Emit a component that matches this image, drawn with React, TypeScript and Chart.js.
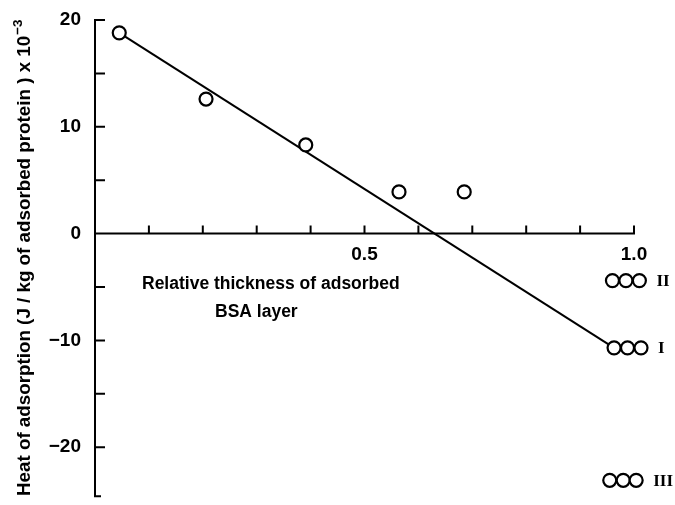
import React, { useEffect, useRef } from 'react';
import { Chart, registerables } from 'chart.js';

Chart.register(...registerables);

// ---- data ----
const mainX = [0.045, 0.206, 0.391, 0.564, 0.685];
const mainY = [18.8, 12.6, 8.3, 3.9, 3.9];

const fitX = [0.045, 0.963];
const fitY = [18.8, -10.7];

const groupNames = ['II', 'I', 'III'];
const groupY = [-4.4, -10.7, -23.1];
const groupXII = [0.96, 0.985, 1.01];
const groupXI = [0.963, 0.988, 1.013];
const groupXIII = [0.955, 0.98, 1.004];

const yMin = -24.6;
const yMax = 20;
const yLabelTicks = [-20, -10, 0, 10, 20];
const yMarkTicks = [20, 15, 10, 5, -5, -10, -15, -20, -24.6];
const xMarkTicks = [0.1, 0.2, 0.3, 0.4, 0.5, 0.6, 0.7, 0.8, 0.9, 1.0];

const yTitle = 'Heat of adsorption (J / kg of adsorbed protein ) x 10';
const yTitleSup = '\u22123';
const xTitleLines = ['Relative thickness of adsorbed', 'BSA layer'];

const SANS = '"Liberation Sans", Arial, sans-serif';
const SERIF = '"Liberation Serif", "Times New Roman", serif';

const toPts = (xs: number[], ys: number[]) => xs.map((v, i) => ({ x: v, y: ys[i] }));

const axesPlugin = {
  id: 'handAxes',
  beforeDatasetsDraw(chart: any) {
    const { ctx, scales } = chart;
    const x = scales.x;
    const y = scales.y;
    ctx.save();
    ctx.strokeStyle = '#000';
    ctx.lineWidth = 2;
    ctx.lineCap = 'butt';
    const x0 = x.getPixelForValue(0);
    const yTop = y.getPixelForValue(yMax);
    const yBot = y.getPixelForValue(yMin);
    ctx.beginPath();
    ctx.moveTo(x0, yTop - 1);
    ctx.lineTo(x0, yBot + 1);
    yMarkTicks.forEach((v) => {
      const py = y.getPixelForValue(v);
      const len = v === yMin ? 6 : 10;
      ctx.moveTo(x0, py);
      ctx.lineTo(x0 + len, py);
    });
    const py0 = y.getPixelForValue(0);
    ctx.moveTo(x0, py0);
    ctx.lineTo(x.getPixelForValue(1) + 1, py0);
    xMarkTicks.forEach((v) => {
      const px = x.getPixelForValue(v);
      ctx.moveTo(px, py0);
      ctx.lineTo(px, py0 - 8);
    });
    ctx.stroke();
    ctx.restore();
  },
  afterDraw(chart: any) {
    const { ctx, scales } = chart;
    const x = scales.x;
    const y = scales.y;
    ctx.save();
    ctx.fillStyle = '#000';
    // y title (rotated) with superscript
    ctx.translate(30, 496);
    ctx.rotate(-Math.PI / 2);
    ctx.font = `bold 18.8px ${SANS}`;
    ctx.textAlign = 'left';
    ctx.textBaseline = 'alphabetic';
    ctx.fillText(yTitle, 0, 0);
    const w = ctx.measureText(yTitle).width;
    ctx.font = `bold 13.5px ${SANS}`;
    ctx.fillText(yTitleSup, w + 1, -8);
    ctx.restore();

    // x title inside plot
    ctx.save();
    ctx.fillStyle = '#000';
    ctx.font = `bold 17.5px ${SANS}`;
    ctx.textAlign = 'left';
    ctx.textBaseline = 'alphabetic';
    ctx.fillText(xTitleLines[0], 142, 289);
    ctx.fillText(xTitleLines[1], 215, 317);
    ctx.restore();

    // roman numeral group labels
    ctx.save();
    ctx.fillStyle = '#000';
    ctx.font = `bold 17px ${SERIF}`;
    ctx.textAlign = 'left';
    ctx.textBaseline = 'middle';
    const lastXs = [groupXII, groupXI, groupXIII];
    groupNames.forEach((name, i) => {
      const px = x.getPixelForValue(lastXs[i][2]) + 17;
      const py = y.getPixelForValue(groupY[i]) + 1;
      ctx.fillText(name, px, py);
    });
    ctx.restore();
  },
};

export default function App() {
  const ref = useRef<HTMLCanvasElement | null>(null);

  useEffect(() => {
    if (!ref.current) return;
    const pointStyle = {
      showLine: false,
      pointRadius: 6.5,
      pointHoverRadius: 6.5,
      pointBorderWidth: 2.2,
      pointBorderColor: '#000',
      pointBackgroundColor: '#fff',
      borderColor: '#000',
      backgroundColor: '#fff',
      clip: false as any,
    };
    const chart = new Chart(ref.current, {
      type: 'scatter',
      data: {
        datasets: [
          { label: 'data', data: toPts(mainX, mainY), ...pointStyle },
          { label: 'II', data: toPts(groupXII, groupXII.map(() => groupY[0])), ...pointStyle },
          { label: 'I', data: toPts(groupXI, groupXI.map(() => groupY[1])), ...pointStyle },
          { label: 'III', data: toPts(groupXIII, groupXIII.map(() => groupY[2])), ...pointStyle },
          {
            label: 'fit',
            data: toPts(fitX, fitY),
            showLine: true,
            pointRadius: 0,
            borderColor: '#000',
            borderWidth: 2,
            clip: false as any,
          },
        ],
      },
      options: {
        responsive: false,
        animation: false,
        events: [],
        layout: { padding: { left: 0, top: 20, right: 41, bottom: 8 } },
        plugins: { legend: { display: false }, tooltip: { enabled: false }, title: { display: false } },
        scales: {
          x: {
            type: 'linear',
            position: { y: 0 } as any,
            min: 0,
            max: 1,
            grid: { display: false, drawTicks: false },
            border: { display: false },
            afterFit: (s: any) => {
              s.height = 0;
              s.paddingTop = 0;
              s.paddingBottom = 0;
              s.paddingLeft = 0;
              s.paddingRight = 0;
            },
            ticks: {
              stepSize: 0.5,
              includeBounds: false,
              padding: 10,
              color: '#000',
              font: { family: SANS, size: 19, weight: 'bold' },
              maxRotation: 0,
              callback: (v: any) => (Number(v) === 0 ? '' : Number(v).toFixed(1)),
            },
          },
          y: {
            type: 'linear',
            position: 'left',
            min: yMin,
            max: yMax,
            grid: { display: false, drawTicks: false },
            border: { display: false },
            afterFit: (s: any) => {
              s.width = 95;
              s.paddingTop = 0;
              s.paddingBottom = 0;
            },
            afterBuildTicks: (s: any) => {
              s.ticks = yLabelTicks.map((v) => ({ value: v }));
            },
            ticks: {
              padding: 14,
              color: '#000',
              font: { family: SANS, size: 19, weight: 'bold' },
              callback: (v: any) => (Number(v) < 0 ? '\u2212' + Math.abs(Number(v)) : String(v)),
            },
          },
        },
      },
      plugins: [axesPlugin],
    });
    return () => chart.destroy();
  }, []);

  return (
    <div style={{ position: 'fixed', left: 0, top: 0, width: 675, height: 505, background: '#fff' }}>
      <canvas ref={ref} width={675} height={505} style={{ display: 'block' }} />
    </div>
  );
}
